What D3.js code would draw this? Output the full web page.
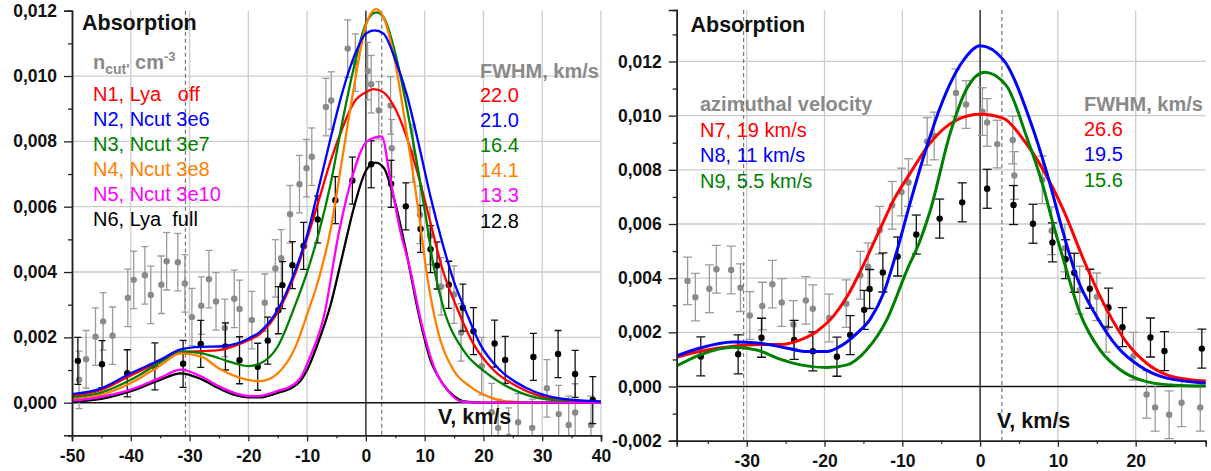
<!DOCTYPE html>
<html><head><meta charset="utf-8">
<script src="https://cdn.jsdelivr.net/npm/d3@7"></script>
<style>
body{margin:0;background:#fff}
svg{display:block}
text{font-family:Arial,"Liberation Sans",sans-serif;white-space:pre}
</style>
</head><body>
<svg id="chart" width="1211" height="471"></svg>
<script>
// ---------- observed data (shared by both panels) ----------
const grayV = [-48.8,-47.6,-46.0,-44.7,-43.1,-40.5,-39.5,-37.6,-36.6,-34.8,-33.9,-32.0,-30.8,-29.6,-28.0,-26.7,-25.5,-24.0,-22.4,-21.5,-19.4,-17.2,-15.4,-14.4,-12.9,-11.3,-10.1,-9.2,-6.8,-5.9,-3.1,-1.8,0.3,0.9,2.2,4.2,4.4,8.0,9.2,10.9,12.8,15.0,16.2,19.7,21.4,22.5,24.3,25.9,28.3,30.8,32.8,34.5,35.6,38.3];
const grayY = [0.00070,0.00133,0.00202,0.00249,0.00205,0.00321,0.00376,0.00390,0.00330,0.00361,0.00433,0.00430,0.00365,0.00262,0.00297,0.00378,0.00310,0.00229,0.00318,0.00287,0.00253,0.00306,0.00411,0.00442,0.00577,0.00669,0.00718,0.00753,0.00905,0.00925,0.01084,0.01041,0.01015,0.00975,0.00895,0.00910,0.00779,0.00763,0.00575,0.00511,0.00356,0.00331,0.00215,0.00112,-0.00029,-0.00077,-0.00104,-0.00060,-0.00077,0.00044,-0.00035,-0.00068,-0.00030,-0.00068];
const grayErr = 0.00088;
const blackV = [-49.0,-44.9,-40.6,-35.9,-31.1,-28.1,-23.9,-21.5,-18.4,-16.7,-14.9,-14.2,-12.5,-10.6,-8.2,-5.2,-2.3,0.9,4.3,6.8,9.3,11.0,12.1,14.1,16.5,18.3,21.9,23.7,28.5,32.7,35.6,38.6];
const blackY = [0.00128,0.00118,0.00090,0.00111,0.00119,0.00180,0.00172,0.00130,0.00110,0.00190,0.00283,0.00360,0.00421,0.00480,0.00561,0.00620,0.00680,0.00730,0.00670,0.00601,0.00532,0.00470,0.00420,0.00361,0.00291,0.00219,0.00181,0.00131,0.00140,0.00149,0.00088,0.00008];
const blackErr = 0.00072;

// ---------- model curves, left panel ----------
const N1 = [[-50,0.00020],[-45,0.00039],[-40,0.00083],[-35,0.00126],[-31.5,0.00155],[-28,0.00158],[-25,0.00161],[-22,0.00176],[-20,0.00191],[-18,0.00211],[-15,0.00277],[-12,0.00396],[-10,0.00503],[-8,0.0062],[-6,0.0074],[-4,0.0084],[-2,0.0092],[0,0.0095],[1.3,0.0096],[3,0.0095],[5,0.0090],[7,0.0081],[9,0.0069],[11,0.0055],[13,0.0041],[15.5,0.0029],[18.3,0.0018],[21.7,0.0010],[25.7,0.0005],[31.4,0.00013],[40,0.00002]];
const N2 = [[-50,0.00026],[-45,0.00044],[-40,0.0009],[-35,0.00131],[-31.5,0.00163],[-28,0.00171],[-25,0.00172],[-22,0.00181],[-20,0.00196],[-18,0.00217],[-15,0.00284],[-12,0.00406],[-10,0.00513],[-8,0.0066],[-6,0.0081],[-4,0.0095],[-2,0.0106],[0,0.0113],[1.5,0.0114],[3,0.0113],[5,0.0105],[7,0.0094],[9,0.0079],[11,0.0063],[13,0.0049],[15,0.0037],[17,0.0028],[19.4,0.0018],[22.8,0.0010],[27.4,0.00044],[33,0.00013],[40,0.00004]];
const N3 = [[-50,0.00015],[-45,0.00031],[-40,0.0007],[-35,0.00123],[-31.5,0.00157],[-28,0.00152],[-25,0.00136],[-22,0.00119],[-20,0.00112],[-18,0.0012],[-15,0.00172],[-12,0.0030],[-10,0.0040],[-8,0.0052],[-6,0.0067],[-4,0.0086],[-2,0.0103],[0,0.0116],[1.75,0.01195],[3,0.0118],[5,0.0107],[7,0.0090],[9,0.0070],[10.1,0.0058],[11.5,0.0042],[13.2,0.0029],[16.6,0.0016],[20.6,0.0009],[25.1,0.0004],[30.8,0.0001],[40,0.00001]];
const N4 = [[-50,0.0001],[-45,0.00024],[-40,0.0006],[-35,0.00114],[-31.5,0.00151],[-28,0.00141],[-25,0.00105],[-22,0.0008],[-20,0.0007],[-18,0.00066],[-15,0.0009],[-12,0.0017],[-10,0.0027],[-8,0.0038],[-6,0.0053],[-4,0.0075],[-2,0.0097],[0,0.01155],[1.75,0.01205],[3,0.0118],[5,0.0104],[7,0.0082],[9,0.0058],[10.4,0.0039],[12.1,0.0023],[14.9,0.0010],[17.7,0.0005],[20.6,0.0002],[24,0.00004],[30,0],[40,0]];
const N5 = [[-50,0.00006],[-45,0.00018],[-40,0.0004],[-35,0.00076],[-31.5,0.00101],[-28,0.0008],[-25,0.0005],[-22,0.00028],[-20,0.0002],[-18,0.00021],[-15,0.00036],[-13,0.00048],[-11,0.0008],[-9.5,0.0014],[-7.2,0.0026],[-4.6,0.0052],[-2.5,0.0068],[0.2,0.0080],[2.7,0.00815],[4.1,0.0069],[5.8,0.0053],[7.5,0.0041],[9.5,0.0024],[11.8,0.0010],[13.8,0.0004],[16.3,0.00003],[20,0],[40,0]];
const N6 = [[-50,0.00003],[-45,0.00012],[-40,0.00035],[-35,0.0007],[-31.5,0.0009],[-28,0.00072],[-25,0.00044],[-22,0.00022],[-20,0.00016],[-18,0.00016],[-15,0.0003],[-13,0.00042],[-11,0.0007],[-10,0.0010],[-8,0.0019],[-6,0.0030],[-4,0.0045],[-2,0.0060],[0,0.0071],[1.6,0.00735],[3,0.0072],[5,0.0061],[7,0.0045],[9,0.0027],[11,0.0013],[13,0.0006],[15,0.0002],[17,0.00003],[20,0],[40,0]];
// ---------- model curves, right panel ----------
const N7 = [[-39,0.00108],[-36,0.0013],[-31.7,0.00149],[-28.3,0.00155],[-25.7,0.00155],[-23.1,0.00172],[-21,0.00203],[-18.9,0.00258],[-17.1,0.00332],[-15.4,0.00425],[-13.1,0.00566],[-11.1,0.00689],[-9,0.00787],[-6.4,0.0090],[-3,0.00984],[0,0.01005],[3,0.0099],[5.6,0.0091],[8.1,0.0080],[10.7,0.00652],[13.5,0.00455],[16.3,0.00283],[18.9,0.0016],[21.4,0.00086],[24,0.00043],[26.6,0.00027],[29,0.0002]];
const N8 = [[-39,0.00113],[-36,0.00142],[-31.7,0.00164],[-28.3,0.0016],[-24.9,0.00142],[-22.3,0.00129],[-19.7,0.00129],[-18,0.00148],[-15.8,0.00197],[-14.1,0.0025],[-12.4,0.00345],[-10.7,0.0050],[-9,0.00677],[-6.85,0.00886],[-5.1,0.01033],[-2.1,0.01206],[0,0.01258],[3,0.01206],[6.4,0.00984],[8.6,0.00787],[10.7,0.00566],[12.4,0.00406],[15,0.00258],[17.6,0.00148],[20.6,0.00074],[24,0.00031],[29,0.00013]];
const N9 = [[-39,0.00076],[-36,0.00117],[-31.7,0.00145],[-28.7,0.00135],[-25.7,0.00101],[-23.1,0.0008],[-19.7,0.0007],[-17.1,0.0008],[-14.6,0.00135],[-12,0.00246],[-9.4,0.0043],[-7.7,0.0054],[-6.4,0.0065],[-3.9,0.0093],[-1.7,0.0110],[0.6,0.0116],[3.4,0.0111],[6,0.0092],[8.1,0.0074],[9.2,0.0062],[10.7,0.0047],[12.85,0.0027],[15.4,0.00135],[18,0.00062],[21.4,0.00018],[25,0.00005],[29,0.00002]];

// ---------- labels / ticks ----------
const leftXTicks = [-50,-40,-30,-20,-10,0,10,20,30,40];
const leftXMinor = [-45,-35,-25,-15,-5,5,15,25,35];
const leftYTicks = [0,0.002,0.004,0.006,0.008,0.010,0.012];
const leftYMinor = [-0.001,0.001,0.003,0.005,0.007,0.009,0.011];
const rightXTicks = [-30,-20,-10,0,10,20];
const rightXMinor = [-35,-25,-15,-5,5,15,25];
const rightYTicks = [-0.002,0,0.002,0.004,0.006,0.008,0.010,0.012];
const rightYMinor = [-0.001,0.001,0.003,0.005,0.007,0.009,0.011,0.013];
const leftNames = ["N1, Lya   off","N2, Ncut 3e6","N3, Ncut 3e7","N4, Ncut 3e8","N5, Ncut 3e10","N6, Lya  full"];
const leftFWHM = ["22.0","21.0","16.4","14.1","13.3","12.8"];
const leftColors = ["#ff0000","#0000ff","#008000","#ff8000","#ff00ff","#000000"];
const rightNames = ["N7, 19 km/s","N8, 11 km/s","N9, 5.5 km/s"];
const rightFWHM = ["26.6","19.5","15.6"];
const rightColors = ["#ff0000","#0000ff","#008000"];
const leftDashV = [-30.7, 2.7];
const rightDashV = [-30.4, 2.8];

const svg = d3.select("#chart");
const fmt = v => d3.format(".3f")(v).replace(".", ",").replace("\u2212", "-");
const GRID = "#cdcdcd", GRAY = "#8a8a8a";

function panel(id, xs, ys, o) {
  const g = svg.append("g");
  const [x0, x1] = xs.range(), [yb, yt] = ys.range();
  o.xTicks.forEach(v => {
    if (v === 0 || Math.abs(xs(v) - x0) < 1) return;
    g.append("line").attr("x1", xs(v)).attr("x2", xs(v)).attr("y1", yt).attr("y2", yb)
      .attr("stroke", GRID).attr("stroke-width", 1.3);
  });
  o.gridY.forEach(v => g.append("line").attr("x1", x0).attr("x2", x1).attr("y1", ys(v)).attr("y2", ys(v))
      .attr("stroke", GRID).attr("stroke-width", 1.3));
  o.dash.forEach(v => g.append("line").attr("x1", xs(v)).attr("x2", xs(v)).attr("y1", yt).attr("y2", yb)
      .attr("stroke", "#777").attr("stroke-width", 1.2).attr("stroke-dasharray", "4,3"));
  g.append("line").attr("x1", x0).attr("x2", x1).attr("y1", ys(0)).attr("y2", ys(0)).attr("stroke", "#111").attr("stroke-width", 1.4);
  g.append("line").attr("x1", xs(0)).attr("x2", xs(0)).attr("y1", yt).attr("y2", yb).attr("stroke", "#111").attr("stroke-width", 1.3);

  svg.append("clipPath").attr("id", id).append("rect")
    .attr("x", x0).attr("y", 0).attr("width", o.clipW).attr("height", yb);
  const d = g.append("g").attr("clip-path", `url(#${id})`);
  function pts(V, Y, err, col, barCol, cap) {
    V.forEach((v, i) => {
      const cx = xs(v), y0 = ys(Y[i] - err), y1 = ys(Y[i] + err);
      d.append("line").attr("x1", cx).attr("x2", cx).attr("y1", y0).attr("y2", y1).attr("stroke", barCol).attr("stroke-width", 1.3);
      [y0, y1].forEach(yy => d.append("line").attr("x1", cx - cap).attr("x2", cx + cap).attr("y1", yy).attr("y2", yy).attr("stroke", barCol).attr("stroke-width", 1.3));
      d.append("circle").attr("cx", cx).attr("cy", ys(Y[i])).attr("r", 3.2).attr("fill", col);
    });
  }
  pts(grayV, grayY, grayErr, GRAY, "#9a9a9a", o.cap);
  pts(blackV, blackY, blackErr, "#000", "#111", o.cap);
  const line = d3.line().x(p => xs(p[0])).y(p => ys(p[1])).curve(d3.curveMonotoneX);
  o.curves.forEach(c => d.append("path").attr("d", line(c.data)).attr("fill", "none")
    .attr("stroke", c.color).attr("stroke-width", o.lw).attr("stroke-linejoin", "round"));

  const ya = g.append("g").attr("transform", `translate(${x0},0)`)
    .call(d3.axisLeft(ys).tickValues(o.yTicks).tickFormat(fmt).tickSize(8).tickPadding(7));
  const yam = g.append("g").attr("transform", `translate(${x0},0)`)
    .call(d3.axisLeft(ys).tickValues(o.yMinor).tickFormat("").tickSize(4));
  const xa = g.append("g").attr("transform", `translate(0,${yb})`)
    .call(d3.axisBottom(xs).tickValues(o.xTicks).tickFormat(v => String(v)).tickSize(6).tickPadding(o.xPad));
  const xam = g.append("g").attr("transform", `translate(0,${yb})`)
    .call(d3.axisBottom(xs).tickValues(o.xMinor).tickFormat("").tickSize(3));
  [ya, yam, xa, xam].forEach(a => {
    a.select(".domain").attr("stroke", "#222").attr("stroke-width", 1.5);
    a.selectAll(".tick line").attr("stroke", "#222").attr("stroke-width", 1.3);
    a.selectAll("text").attr("font-size", 17.5).attr("font-weight", "bold").attr("fill", "#111")
      .attr("font-family", "Arial, 'Liberation Sans', sans-serif");
  });
  return g;
}

// ---------- left panel ----------
const xL = d3.scaleLinear().domain([-50, 40]).range([72, 601]);
const yL = d3.scaleLinear().domain([-0.001, 0.012]).range([435.35, 10.7]);
panel("clipL", xL, yL, {
  xTicks: leftXTicks, xMinor: leftXMinor, yTicks: leftYTicks, yMinor: leftYMinor,
  gridY: [0.002, 0.004, 0.006, 0.008, 0.010], dash: leftDashV, clipW: 534, cap: 3.5, lw: 2.3, xPad: 8,
  curves: [{data: N1, color: leftColors[0]}, {data: N3, color: leftColors[2]}, {data: N4, color: leftColors[3]},
           {data: N6, color: leftColors[5]}, {data: N5, color: leftColors[4]}, {data: N2, color: leftColors[1]}]
});

// ---------- right panel ----------
const xR = d3.scaleLinear().domain([-39, 29]).range([676.7, 1205.7]);
const yR = d3.scaleLinear().domain([-0.002, 0.0139]).range([440.7, 10]);
panel("clipR", xR, yR, {
  xTicks: rightXTicks, xMinor: rightXMinor, yTicks: rightYTicks, yMinor: rightYMinor,
  gridY: [0.002, 0.004, 0.006, 0.008, 0.010, 0.012], dash: rightDashV, clipW: 540, cap: 4.5, lw: 3, xPad: 8,
  curves: [{data: N7, color: rightColors[0]}, {data: N9, color: rightColors[2]}, {data: N8, color: rightColors[1]}]
});

// ---------- texts ----------
function txt(x, y, s, size, color, bold) {
  return svg.append("text").attr("x", x).attr("y", y).attr("font-size", size)
    .attr("font-weight", bold ? "bold" : "normal").attr("fill", color).text(s);
}
txt(82, 29.5, "Absorption", 21.5, "#111", true);
txt(690.5, 31.5, "Absorption", 21.5, "#111", true);
txt(438, 423.5, "V, km/s", 21.5, "#111", true);
txt(997, 428, "V, km/s", 21.5, "#111", true);

const hn = svg.append("text").attr("x", 93).attr("y", 68.5).attr("font-size", 20).attr("font-weight", "bold").attr("fill", GRAY);
hn.append("tspan").text("n");
hn.append("tspan").attr("font-size", 14).attr("dy", 5).text("cut'");
hn.append("tspan").attr("dy", -5).text(" cm");
hn.append("tspan").attr("font-size", 13).attr("dy", -8).text("-3");

leftNames.forEach((s, i) => txt(93, 100.5 + 25 * i, s, 20, leftColors[i], false));
txt(480, 77.5, "FWHM, km/s", 20, GRAY, true);
leftFWHM.forEach((s, i) => txt(480, 101.5 + 25.2 * i, s, 20, leftColors[i], false));

txt(700, 111, "azimuthal velocity", 20, GRAY, true);
rightNames.forEach((s, i) => txt(700, 136.5 + 25.7 * i, s, 20, rightColors[i], false));
txt(1084, 110.7, "FWHM, km/s", 20, GRAY, true);
rightFWHM.forEach((s, i) => txt(1084, 136 + 25.4 * i, s, 20, rightColors[i], false));
</script>
</body></html>
